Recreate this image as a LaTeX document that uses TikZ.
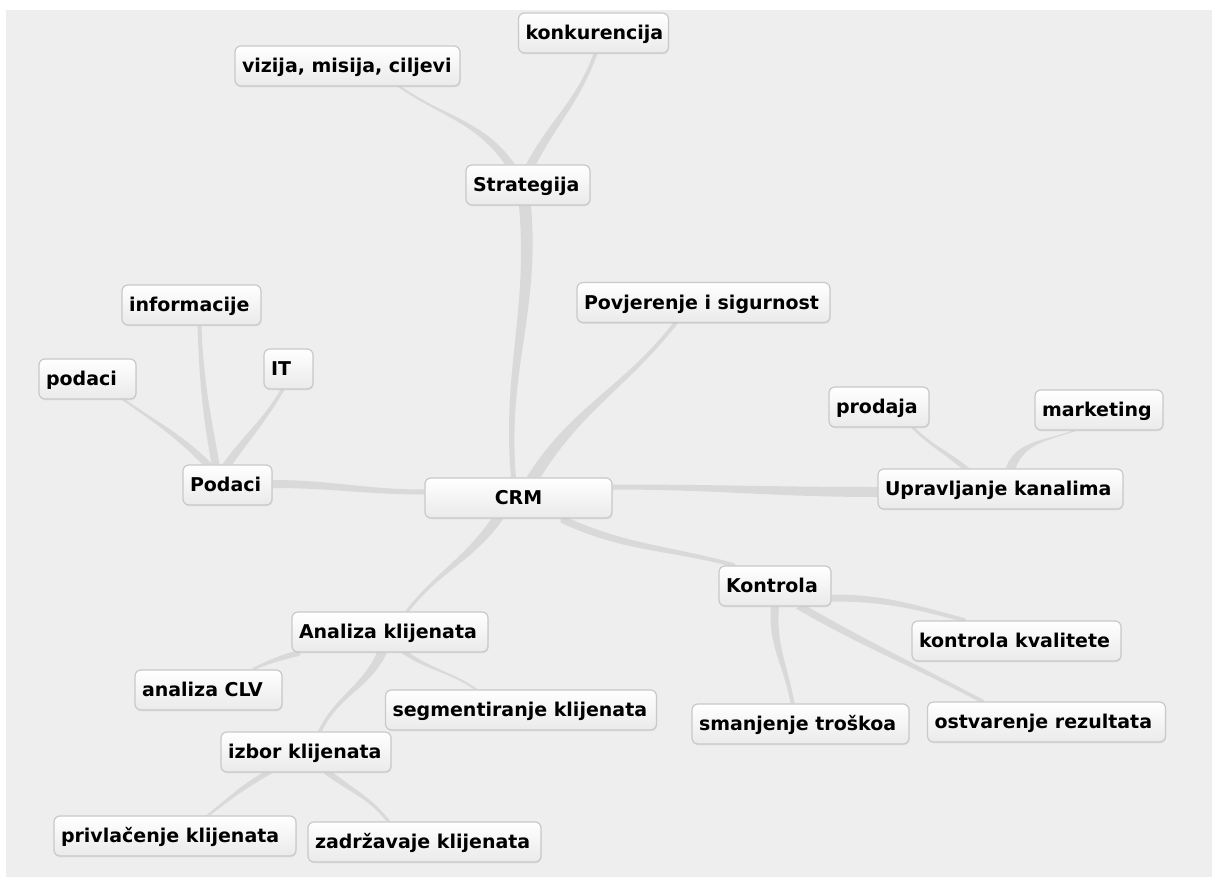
\documentclass[tikz,border=0pt]{standalone}
\usepackage{fontspec}
\setmainfont{DejaVu Sans}
\usetikzlibrary{calc,shadows}
\definecolor{bgcol}{HTML}{EEEEEE}
\definecolor{boxline}{HTML}{C9C9C9}
\definecolor{boxbot}{HTML}{EAEAEA}
\definecolor{ribcol}{HTML}{D6D6D6}
\pgfdeclarelayer{back}
\pgfdeclarelayer{links}
\pgfsetlayers{back,links,main}
\tikzset{
  box/.style={draw=boxline, line width=1.2pt, rounded corners=6pt,
    top color=white, bottom color=boxbot, minimum height=40pt,
    inner xsep=7pt, inner ysep=0pt, text height=13.9pt, text depth=0pt,
    font=\bfseries\fontsize{19}{22}\selectfont, text=black,
    drop shadow={shadow xshift=0.6pt, shadow yshift=-1.4pt, opacity=0.12}},
  ribbon/.style={fill=ribcol, fill opacity=0.85}
}
\newcommand\lb[2]{\makebox[#1pt][l]{#2}}
% #1 parent anchor, #2 shift, #3 child anchor, #4 shift, #5 out, #6 in, #7 parent half width, #8 child half width
\newcommand\rib[8]{%
  \fill[ribbon] ($(#1)+(#2)+(#7)$) to[out=#5,in=#6] ($(#3)+(#4)+(#8)$)
    -- ($(#3)+(#4)-(#8)$) to[out=#6,in=#5] ($(#1)+(#2)-(#7)$) -- cycle;}
\begin{document}
\begin{tikzpicture}[x=1pt,y=1pt]
\useasboundingbox (0,0) rectangle (1212,-877);
\begin{pgfonlayer}{back}
  \fill[white] (0,0) rectangle (1212,-877);
  \fill[bgcol] (6,-10) rectangle (1212,-877);
\end{pgfonlayer}

\node[box] (vizija) at (347.5,-66) {\lb{211}{vizija, misija, ciljevi}};
\node[box] (konk) at (593.5,-33) {\lb{136}{konkurencija}};
\node[box] (strat) at (528,-185) {\lb{110}{Strategija}};
\node[box] (povj) at (703.5,-302.5) {\lb{239}{Povjerenje i sigurnost}};
\node[box] (info) at (191.5,-305) {\lb{125}{informacije}};
\node[box] (it) at (288.5,-369) {\lb{35}{IT}};
\node[box] (podacil) at (87.5,-379) {\lb{83}{podaci}};
\node[box] (podaci) at (227.5,-485) {\lb{75}{Podaci}};
\node[box] (crm) at (518.5,-498) {\makebox[173pt][c]{CRM}};
\node[box] (prodaja) at (879,-407) {\lb{86}{prodaja}};
\node[box] (marketing) at (1099,-410) {\lb{114}{marketing}};
\node[box] (upr) at (1000.5,-489) {\lb{231}{Upravljanje kanalima}};
\node[box] (kontrola) at (775,-586) {\lb{98}{Kontrola}};
\node[box] (kvalitete) at (1016.5,-641) {\lb{195}{kontrola kvalitete}};
\node[box] (smanjenje) at (800.5,-724) {\lb{203}{smanjenje troškoa}};
\node[box] (ostvarenje) at (1046.5,-722) {\lb{224}{ostvarenje rezultata}};
\node[box] (analiza) at (390,-632) {\lb{182}{Analiza klijenata}};
\node[box] (clv) at (208.5,-690) {\lb{133}{analiza CLV}};
\node[box] (segm) at (521,-710) {\lb{257}{segmentiranje klijenata}};
\node[box] (izbor) at (306,-752) {\lb{156}{izbor klijenata}};
\node[box] (privl) at (175,-836) {\lb{228}{privlačenje klijenata}};
\node[box] (zadr) at (424.5,-842) {\lb{219}{zadržavaje klijenata}};

\begin{pgfonlayer}{links}
\rib{crm.north}{-5,0}{strat.south}{-3,0}{95}{-85}{2.5,0}{6,0}
\rib{strat.north}{-18,0}{vizija.south}{52,0}{125}{-35}{5,0}{2,0}
\rib{strat.north}{3,0}{konk.south}{2,0}{62}{-110}{5,0}{2,0}
\rib{crm.north}{15,0}{povj.south}{-28,0}{58}{-128}{7,0}{2.5,0}
\rib{crm.west}{0,6}{podaci.east}{0,1}{180}{0}{0,2.5}{0,4}
\rib{podaci.north}{-20,0}{podacil.south}{36,0}{135}{-35}{5,0}{2,0}
\rib{podaci.north}{-12,0}{info.south}{8,0}{100}{-88}{4,0}{2,0}
\rib{podaci.north}{0,0}{it.south}{-6,0}{55}{-120}{5,0}{2,0}
\rib{crm.east}{0,11}{upr.west}{0,-3}{0}{180}{0,2.5}{0,5}
\rib{upr.north}{-35,0}{prodaja.south}{34,0}{140}{-45}{4,0}{2,0}
\rib{upr.north}{10,0}{marketing.south}{-24,0}{70}{-160}{5,0}{2,0}
\rib{crm.south}{42,0}{kontrola.north}{-40,0}{-25}{165}{0,4}{0,2}
\rib{kontrola.east}{0,-12}{kvalitete.north}{-51,0}{0}{165}{0,3.5}{0,2}
\rib{kontrola.south}{0,0}{smanjenje.north}{-8,0}{-95}{100}{4,0}{2,0}
\rib{kontrola.south}{25,0}{ostvarenje.north}{-64,0}{-30}{152}{4,2}{2,1}
\rib{crm.south}{-21,0}{analiza.north}{17,0}{-125}{52}{6,0}{2,0}
\rib{analiza.south}{-90,0}{clv.north}{44,0}{195}{25}{0,3}{0,1.5}
\rib{analiza.south}{15,0}{segm.north}{-45,0}{-35}{145}{4,0}{2,0}
\rib{analiza.south}{-8,0}{izbor.north}{14,0}{-115}{65}{5,0}{2,0}
\rib{izbor.south}{-38,0}{privl.north}{33,0}{-150}{38}{5,0}{2,0}
\rib{izbor.south}{22,0}{zadr.north}{-36,0}{-38}{128}{5,0}{2,0}
\end{pgfonlayer}
\end{tikzpicture}
\end{document}
